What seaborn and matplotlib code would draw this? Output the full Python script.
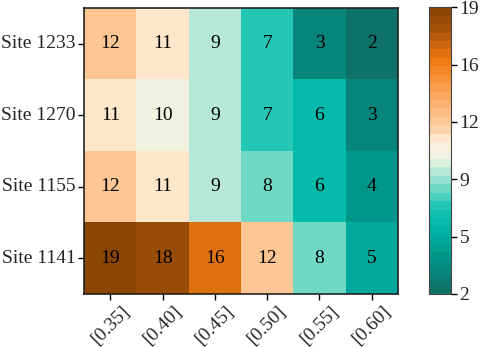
import numpy as np
import pandas as pd
import matplotlib
matplotlib.use("Agg")
import matplotlib.pyplot as plt
import seaborn as sns
from matplotlib.colors import LinearSegmentedColormap

sites = ['Site 1233', 'Site 1270', 'Site 1155', 'Site 1141']
thresholds = ['[0.35]', '[0.40]', '[0.45]', '[0.50]', '[0.55]', '[0.60]']
site_1233 = [12, 11, 9, 7, 3, 2]
site_1270 = [11, 10, 9, 7, 6, 3]
site_1155 = [12, 11, 9, 8, 6, 4]
site_1141 = [19, 18, 16, 12, 8, 5]

df = pd.DataFrame([site_1233, site_1270, site_1155, site_1141],
                  index=sites, columns=thresholds)

vmin, vmax = 2, 19
anchors = [(2, '#0E7268'), (4, '#00968A'), (6, '#00B9AA'), (7, '#19C3B4'),
           (8, '#64D7C3'), (9, '#A8E4D4'), (10, '#EEF3E2'), (11, '#FEF0DA'),
           (12, '#FCCD9E'), (14, '#FDA55A'), (16, '#F07A10'), (18, '#A5500A'),
           (19, '#8C4505')]
cmap = LinearSegmentedColormap.from_list(
    'teal_orange', [((v - vmin) / (vmax - vmin), c) for v, c in anchors], N=34)

sns.set_style('white')
plt.rcParams['font.family'] = ['Liberation Serif', 'DejaVu Serif']

fig = plt.figure(figsize=(4.84, 3.47), dpi=100)
ax = fig.add_axes([0.174, 0.153, 0.648, 0.824])
cax = fig.add_axes([0.887, 0.153, 0.045, 0.826])

sns.heatmap(df, ax=ax, cbar_ax=cax, cmap=cmap, vmin=vmin, vmax=vmax,
            annot=True, fmt='d', annot_kws={'fontsize': 14, 'color': 'black'})

for s in ax.spines.values():
    s.set_visible(True)
    s.set_color('#222222')
    s.set_linewidth(1.2)
ax.tick_params(axis='both', which='both', length=4, width=1, labelsize=14,
               bottom=True, left=True, color='black', pad=2)
ax.set_xticklabels(thresholds, rotation=45, ha='center', va='top')
ax.set_yticklabels(sites, rotation=0)
ax.set_xlabel('')
ax.set_ylabel('')

cbar = ax.collections[0].colorbar
cbar.set_ticks(np.linspace(vmin, vmax, 6))
cbar.ax.yaxis.set_major_formatter(matplotlib.ticker.FormatStrFormatter('%.0f'))
cbar.ax.tick_params(labelsize=14, length=4, width=1, right=True, color='black', pad=2)
cbar.outline.set_visible(True)
cbar.outline.set_edgecolor('#444444')
cbar.outline.set_linewidth(0.8)

fig.savefig('out.png', dpi=100)
